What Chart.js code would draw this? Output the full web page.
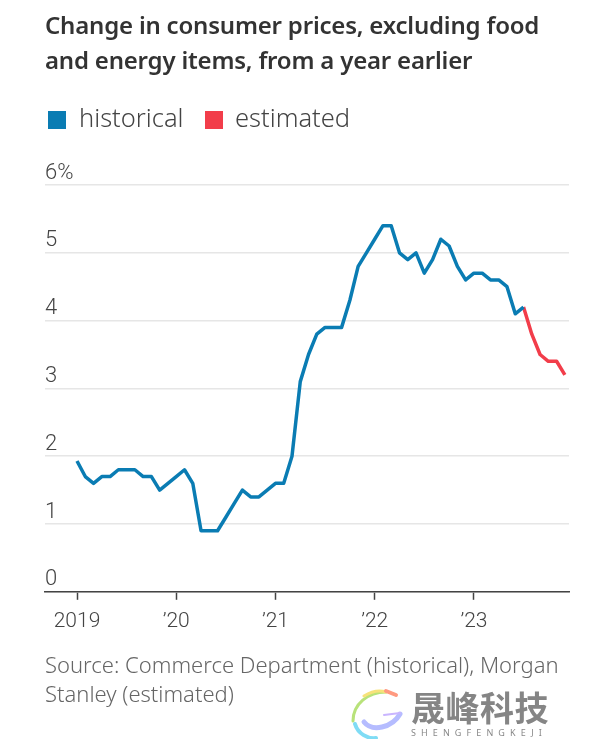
<!DOCTYPE html>
<html>
<head>
<meta charset="utf-8">
<script src="https://cdn.jsdelivr.net/npm/chart.js@4"></script>
<style>
  html, body { margin: 0; padding: 0; background: #fff; }
  body { width: 602px; height: 739px; position: relative; overflow: hidden; font-family: "Noto Sans", sans-serif; }
  canvas { position: absolute; left: 0; top: 0; }
  .title { position: absolute; left: 45px; top: 7px; font-size: 24px; line-height: 35px; font-weight: 600; color: #333; letter-spacing: -0.2px; white-space: nowrap; }
  .legend { position: absolute; top: 101px; font-size: 25.5px; line-height: 32px; font-weight: 300; color: #444; white-space: nowrap; }
  .swatch { position: absolute; top: 111px; width: 18px; height: 18px; }
  .source { position: absolute; left: 45px; top: 650px; font-size: 22px; line-height: 29px; font-weight: 300; color: #666; white-space: nowrap; }
  .mark { position: absolute; left: 411px; top: 685px; font-family: "Noto Sans CJK SC", sans-serif; font-size: 34px; line-height: 44px; font-weight: 700; color: #858585; letter-spacing: 0.5px; white-space: nowrap; }
  .mark2 { position: absolute; left: 411px; top: 727px; font-size: 9px; line-height: 11px; color: #888; letter-spacing: 5.1px; white-space: nowrap; }
  svg { position: absolute; left: 350px; top: 688px; }
</style>
</head>
<body>
<canvas id="chart" width="602" height="739"></canvas>
<div class="title">Change in consumer prices, excluding food<br>and energy items, from a year earlier</div>
<div class="swatch" style="left:48px;background:#0a7cb3"></div>
<div class="legend" style="left:79px">historical</div>
<div class="swatch" style="left:205px;background:#f23d4a"></div>
<div class="legend" style="left:235px">estimated</div>
<div class="source">Source: Commerce Department (historical), Morgan<br>Stanley (estimated)</div>
<svg width="56" height="52" viewBox="0 0 56 52" fill="none" stroke-linecap="round">
  <path d="M3 33 C3 16 18 4 36 4" stroke="#b8e27a" stroke-width="3"/>
  <path d="M14 8 C22 3 30 2 36 4" stroke="#f7e27a" stroke-width="3"/>
  <path d="M36 3 L46 7" stroke="#ff9a80" stroke-width="4"/>
  <path d="M5 36 C8 46 18 51 26 50" stroke="#7fdcf5" stroke-width="4"/>
  <path d="M14 34 C22 44 42 40 50 26" stroke="#b5bcff" stroke-width="5"/>
  <path d="M34 27 L50 25" stroke="#c9b5ff" stroke-width="2"/>
</svg>
<div class="mark">晟峰科技</div>
<div class="mark2">SHENGFENGKEJI</div>

<script>
const historical = [1.93, 1.7, 1.6, 1.7, 1.7, 1.8, 1.8, 1.8, 1.7, 1.7, 1.5, 1.6,
  1.7, 1.8, 1.6, 0.9, 0.9, 0.9, 1.1, 1.3, 1.5, 1.4, 1.4, 1.5,
  1.6, 1.6, 2.0, 3.1, 3.5, 3.8, 3.9, 3.9, 3.9, 4.3, 4.8, 5.0,
  5.2, 5.4, 5.4, 5.0, 4.9, 5.0, 4.7, 4.9, 5.2, 5.1, 4.8, 4.6,
  4.7, 4.7, 4.6, 4.6, 4.5, 4.1, 4.2];
const estimated = [4.2, 3.8, 3.5, 3.4, 3.4, 3.2];
const estimatedStart = 54;

const xTickValues = [0, 12, 24, 36, 48];
const xTickLabels = ["2019", "\u201920", "\u201921", "\u201922", "\u201923"];
const yTickLabels = ["0", "1", "2", "3", "4", "5", "6%"];

const toPoints = (values, start) => values.map((v, i) => ({ x: start + i, y: v }));

new Chart(document.getElementById("chart"), {
  type: "line",
  data: {
    datasets: [
      { label: "historical", data: toPoints(historical, 0), borderColor: "#0a7cb3" },
      { label: "estimated", data: toPoints(estimated, estimatedStart), borderColor: "#f23d4a" }
    ]
  },
  options: {
    responsive: false,
    animation: false,
    layout: { padding: { left: 45, right: 33, top: 185, bottom: 96 } },
    elements: {
      point: { radius: 0 },
      line: { borderWidth: 3.5, tension: 0, borderJoinStyle: "round", borderCapStyle: "butt" }
    },
    plugins: { legend: { display: false }, tooltip: { enabled: false } },
    scales: {
      x: {
        type: "linear",
        min: -3.87,
        max: 59.5,
        afterBuildTicks: (axis) => { axis.ticks = xTickValues.map(v => ({ value: v })); },
        grid: { drawOnChartArea: false, drawTicks: true, tickLength: 8, tickColor: "#444", tickWidth: 1.5 },
        border: { color: "#444", width: 1.5 },
        ticks: {
          autoSkip: false,
          maxRotation: 0,
          padding: 9,
          color: "#444",
          font: { family: "Roboto", size: 21, weight: "300" },
          callback: (v) => xTickLabels[xTickValues.indexOf(v)]
        }
      },
      y: {
        min: 0,
        max: 6,
        grid: { color: "#e6e6e6", lineWidth: 1.5, drawTicks: false },
        border: { display: false },
        ticks: {
          stepSize: 1,
          mirror: true,
          padding: 0,
          labelOffset: -12,
          color: "#444",
          font: { family: "Roboto", size: 22, weight: "300" },
          callback: (v) => yTickLabels[v]
        }
      }
    }
  }
});
</script>
</body>
</html>
